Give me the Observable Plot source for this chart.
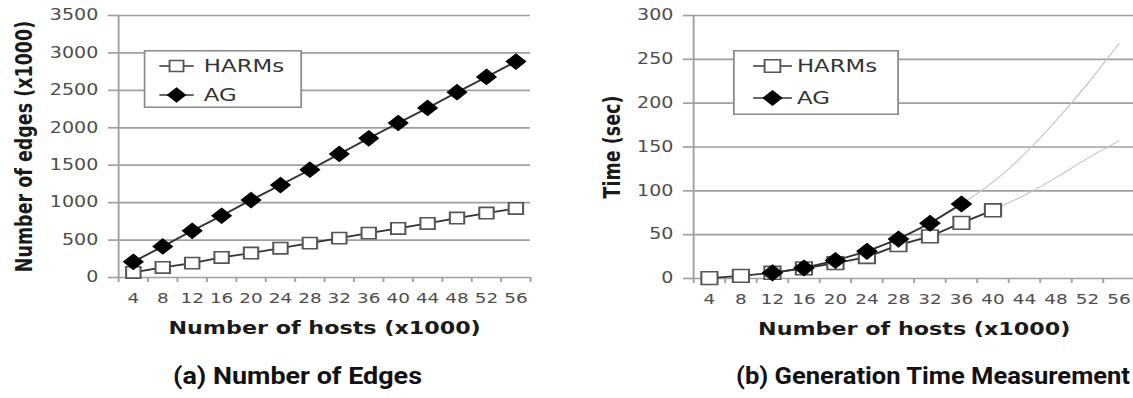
<!DOCTYPE html>
<html>
<head>
<meta charset="utf-8">
<script src="https://cdn.jsdelivr.net/npm/d3@7"></script>
<script src="https://cdn.jsdelivr.net/npm/@observablehq/plot@0.6"></script>
<style>
  html, body { margin: 0; padding: 0; background: #fff; overflow: hidden; }
  #wrap { width: 1133px; height: 398px; position: relative; }
  #stretch { position: absolute; left: 0; top: 0; width: 893px; height: 345px;
             transform: scaleX(1.27); transform-origin: 0 0; display: flex; }
  .panel { position: relative; }
  .panel svg { display: block; }
  .legend { position: absolute; }
  #captions { position: absolute; left: 0; top: 345px; }
</style>
</head>
<body>
<div id="wrap">
  <div id="stretch">
    <div class="panel" id="left"></div>
    <div class="panel" id="right"></div>
  </div>
  <svg id="captions" width="1133" height="53"></svg>
</div>
<script>
// ---------------- data ----------------
const hosts = [4, 8, 12, 16, 20, 24, 28, 32, 36, 40, 44, 48, 52, 56];
const harmsEdges = [67, 134, 192, 268, 326, 392, 459, 526, 593, 655, 722, 794, 861, 923];
const agEdges = [210, 415, 624, 825, 1034, 1235, 1440, 1650, 1859, 2064, 2265, 2475, 2680, 2885];
const edgeTicks = [0, 500, 1000, 1500, 2000, 2500, 3000, 3500];

const harmsTimeHosts = [4, 8, 12, 16, 20, 24, 28, 32, 36, 40];
const harmsTime = [0.5, 3, 6.5, 11.5, 17.5, 24.5, 38, 48, 63.5, 77.8];
const agTimeHosts = [12, 16, 20, 24, 28, 32, 36];
const agTime = [6.5, 12, 20.5, 31, 45, 63, 85];
const agTrendHosts = [36, 40, 44, 48, 52, 56];
const agTrend = [85, 110, 142, 180, 222, 268];
const harmsTrendHosts = [40, 44, 48, 52, 56];
const harmsTrend = [77.8, 95, 115, 137, 157];
const timeTicks = [0, 50, 100, 150, 200, 250, 300];

const seriesNames = ["HARMs", "AG"];
const titles = {
  xTitle: "Number of hosts (x1000)",
  yEdges: "Number of edges (x1000)",
  yTime: "Time (sec)",
  capA: "(a) Number of Edges",
  capB: "(b) Generation Time Measurement"
};

// ---------------- styles ----------------
const gridColor = "#a0a0a0";
const tickColor = "#4d4d4d";
const lineColor = "#333333";
const squareStroke = "#555555";
const titleColor = "#1a1a1a";
const font = "DejaVu Sans";
const boundaries = [...hosts.map(h => h - 2), 58];

const rows = (xs, ys) => xs.map((x, i) => ({x, y: ys[i]}));

function baseMarks(ticks, yTitle, yTitleDx) {
  return [
    Plot.gridY(ticks, {stroke: gridColor, strokeOpacity: 1, strokeWidth: 1.7}),
    Plot.axisY(ticks, {tickSize: 8, tickPadding: 8, stroke: gridColor, strokeWidth: 1.7,
      fill: tickColor, fontSize: 15, label: null, tickFormat: d => String(d)}),
    Plot.ruleX([2], {stroke: gridColor, strokeWidth: 1.5}),
    Plot.axisX(boundaries, {tickSize: 5, tickFormat: () => "", stroke: gridColor,
      strokeWidth: 1.5, label: null}),
    Plot.axisX(hosts, {tickSize: 0, tickPadding: 15, fontSize: 14.5, fill: tickColor, label: null,
      tickFormat: d => String(d)}),
    Plot.text([titles.xTitle], {text: d => d, frameAnchor: "bottom", dy: 51, lineAnchor: "middle",
      textAnchor: "middle", fontSize: 17.5, fontWeight: "bold", fill: titleColor}),
    Plot.text([yTitle], {text: d => d, frameAnchor: "left", dx: yTitleDx, rotate: -90,
      textAnchor: "middle", lineAnchor: "middle", fontSize: 17.5, fontWeight: "bold", fill: titleColor})
  ];
}

// ---------------- left chart ----------------
const leftPlot = Plot.plot({
  width: 445, height: 345,
  marginLeft: 92.9, marginRight: 27.7, marginTop: 15, marginBottom: 68,
  x: {domain: [2, 58], axis: null},
  y: {domain: [0, 3500], axis: null},
  style: {fontFamily: font, background: "transparent", overflow: "visible"},
  marks: [
    ...baseMarks(edgeTicks, titles.yEdges, -74),
    Plot.line(rows(hosts, harmsEdges), {x: "x", y: "y", stroke: lineColor, strokeWidth: 1.8}),
    Plot.line(rows(hosts, agEdges), {x: "x", y: "y", stroke: lineColor, strokeWidth: 1.8}),
    Plot.dot(rows(hosts, harmsEdges), {x: "x", y: "y", symbol: "square", r: 6.4,
      fill: "white", stroke: squareStroke, strokeWidth: 1.6}),
    Plot.dot(rows(hosts, agEdges), {x: "x", y: "y", symbol: "diamond2", r: 6.9,
      fill: "black", stroke: "black", strokeWidth: 1})
  ]
});
document.getElementById("left").append(leftPlot);

// ---------------- right chart ----------------
const rightPlot = Plot.plot({
  width: 448, height: 345,
  marginLeft: 100.7, marginRight: 0, marginTop: 15, marginBottom: 67,
  x: {domain: [2, 58], axis: null},
  y: {domain: [0, 300], axis: null},
  style: {fontFamily: font, background: "transparent", overflow: "visible"},
  marks: [
    ...baseMarks(timeTicks, titles.yTime, -64),
    Plot.line(rows(agTrendHosts, agTrend), {x: "x", y: "y", stroke: "#c4c4c4", strokeWidth: 1, curve: "natural"}),
    Plot.line(rows(harmsTrendHosts, harmsTrend), {x: "x", y: "y", stroke: "#c4c4c4", strokeWidth: 1, curve: "natural"}),
    Plot.line(rows(harmsTimeHosts, harmsTime), {x: "x", y: "y", stroke: lineColor, strokeWidth: 1.8}),
    Plot.dot(rows(harmsTimeHosts, harmsTime), {x: "x", y: "y", symbol: "square", r: 7.2,
      fill: "white", stroke: squareStroke, strokeWidth: 1.6}),
    Plot.line(rows(agTimeHosts, agTime), {x: "x", y: "y", stroke: lineColor, strokeWidth: 1.8}),
    Plot.dot(rows(agTimeHosts, agTime), {x: "x", y: "y", symbol: "diamond2", r: 7.1,
      fill: "black", stroke: "black", strokeWidth: 1})
  ]
});
document.getElementById("right").append(rightPlot);

// ---------------- legends ----------------
function legend(parent, left, top, w, h, rowY, lineX0, lineX1, textX, sq, dm) {
  const svg = d3.select(parent).append("svg").attr("class", "legend")
    .style("left", left + "px").style("top", top + "px")
    .attr("width", w).attr("height", h);
  svg.append("rect").attr("x", 0.75).attr("y", 0.75).attr("width", w - 1.5).attr("height", h - 1.5)
    .attr("fill", "white").attr("stroke", "#8c8c8c").attr("stroke-width", 1.6);
  const cx = (lineX0 + lineX1) / 2;
  seriesNames.forEach((name, i) => {
    const y = rowY[i];
    svg.append("line").attr("x1", lineX0).attr("x2", lineX1).attr("y1", y).attr("y2", y)
      .attr("stroke", lineColor).attr("stroke-width", 1.6);
    const sym = i === 0
      ? d3.symbol(d3.symbolSquare, Math.PI * sq * sq)
      : d3.symbol(d3.symbolDiamond2, Math.PI * dm * dm);
    svg.append("path").attr("d", sym()).attr("transform", `translate(${cx},${y})`)
      .attr("fill", i === 0 ? "white" : "black")
      .attr("stroke", i === 0 ? squareStroke : "black").attr("stroke-width", i === 0 ? 1.5 : 1);
    svg.append("text").attr("x", textX).attr("y", y).attr("dy", "0.35em")
      .attr("font-family", font).attr("font-size", 18).attr("fill", "#333").text(name);
  });
}
legend(document.getElementById("left"), 112.6, 50, 125, 58, [16, 45], 12.5, 39.5, 47.5, 6.2, 6.4);
legend(document.getElementById("right"), 132, 50, 131, 65, [16, 48], 16, 46.5, 50.5, 7, 6.6);

// ---------------- captions ----------------
const cap = d3.select("#captions");
[[titles.capA, 173, 249], [titles.capB, 736, 394]].forEach(([t, x, len]) => {
  cap.append("text").attr("x", x).attr("y", 39)
    .attr("textLength", len).attr("lengthAdjust", "spacingAndGlyphs")
    .attr("font-family", "Roboto").attr("font-weight", 700).attr("font-size", 24)
    .attr("fill", "#111").text(t);
});
</script>
</body>
</html>
